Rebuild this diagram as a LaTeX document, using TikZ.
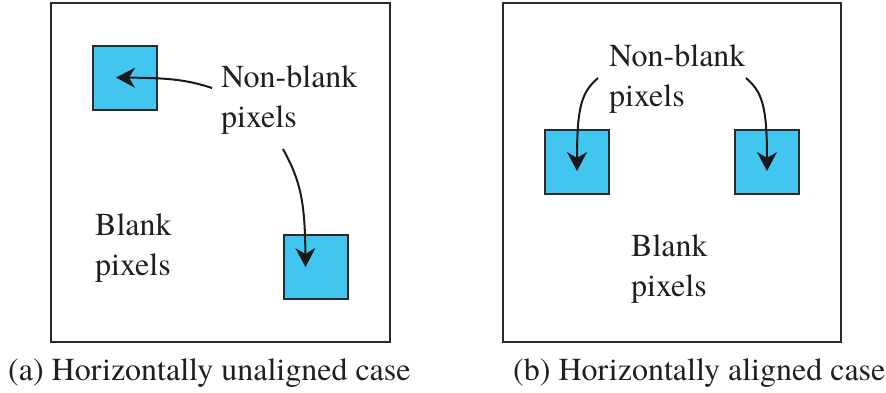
\documentclass[tikz,border=0pt]{standalone}
\usepackage{fontspec}
\setmainfont{TeX Gyre Termes}
\usetikzlibrary{arrows.meta}
\definecolor{pixcyan}{HTML}{42C6F0}
\definecolor{linegray}{HTML}{2A2A2A}
\begin{document}
\begin{tikzpicture}[x=1pt,y=-1pt,
  frame/.style={draw=linegray,line width=1.6pt},
  pix/.style={draw=linegray,fill=pixcyan,line width=2pt,minimum width=64pt,minimum height=64pt,inner sep=0pt},
  lbl/.style={font=\fontsize{32}{40}\selectfont,align=left,inner sep=0pt,anchor=base west,text=black!88},
  arr/.style={draw=black!90,line width=2pt,-{Stealth[length=19pt,width=20pt,inset=6pt]}}
]
\useasboundingbox (0,0) rectangle (886,392);
% panel (a)
\draw[frame] (51,3) rectangle (390,342);
\node[pix] (a1) at (125,77.5) {};
\node[pix] (a2) at (315.5,267) {};
\node[lbl] (anb) at (221,127) {Non-blank\\pixels};
\node[lbl] (abl) at (95,275) {Blank\\pixels};
\node[lbl] (acap) at (8,380) {(a) Horizontally unaligned case};
\coordinate (as1) at (212,88);
\coordinate (as2) at (283,149);
\draw[arr] (as1) .. controls (185,79) and (165,78) .. ([xshift=-9pt]a1.center);
\draw[arr] (as2) .. controls (300,180) and (305,200) .. ([xshift=-10pt]a2.center);
% panel (b)
\draw[frame] (503,3) rectangle (841,342);
\node[pix] (b1) at (577,162) {};
\node[pix] (b2) at (767,162) {};
\node[lbl] (bnb) at (609,106) {Non-blank\\pixels};
\node[lbl] (bbl) at (631,296) {Blank\\pixels};
\node[lbl] (bcap) at (513,380) {(b) Horizontally aligned case};
\coordinate (bs1) at (598,78);
\coordinate (bs2) at (746,78);
\draw[arr] (bs1) .. controls (582,92) and (577,105) .. ([yshift=-9pt]b1.center);
\draw[arr] (bs2) .. controls (762,92) and (767,105) .. ([yshift=-9pt]b2.center);
\end{tikzpicture}
\end{document}
